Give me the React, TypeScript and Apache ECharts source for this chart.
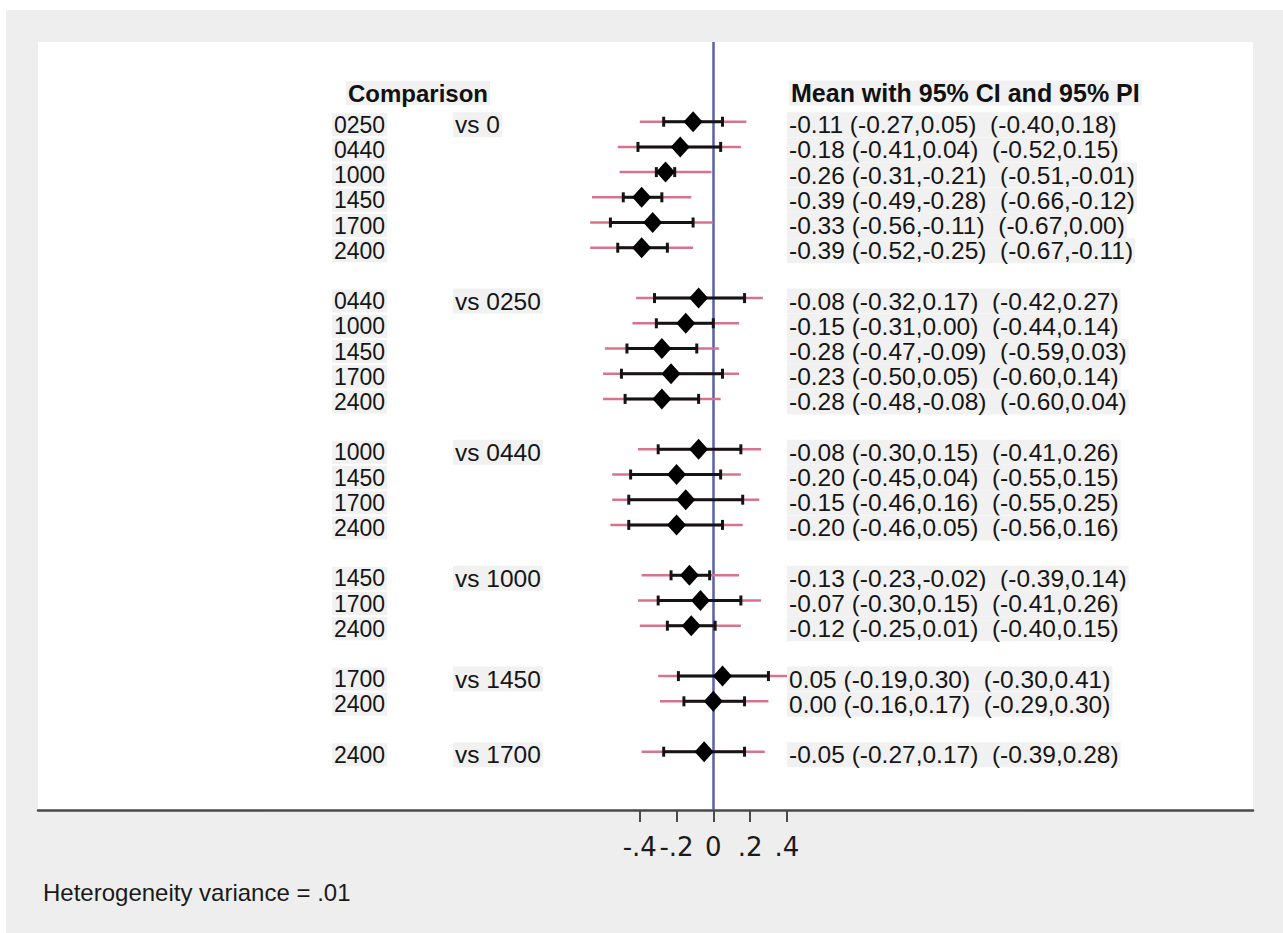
import React, { useEffect, useRef } from "react";
import * as echarts from "echarts";

// ---------- data ----------
const treatments = [
  "0250", "0440", "1000", "1450", "1700", "2400",
  "0440", "1000", "1450", "1700", "2400",
  "1000", "1450", "1700", "2400",
  "1450", "1700", "2400",
  "1700", "2400",
  "2400",
];
const comparators = [
  "0", "0", "0", "0", "0", "0",
  "0250", "0250", "0250", "0250", "0250",
  "0440", "0440", "0440", "0440",
  "1000", "1000", "1000",
  "1450", "1450",
  "1700",
];
const means = [
  -0.11, -0.18, -0.26, -0.39, -0.33, -0.39,
  -0.08, -0.15, -0.28, -0.23, -0.28,
  -0.08, -0.2, -0.15, -0.2,
  -0.13, -0.07, -0.12,
  0.05, 0.0,
  -0.05,
];
const ciLo = [
  -0.27, -0.41, -0.31, -0.49, -0.56, -0.52,
  -0.32, -0.31, -0.47, -0.5, -0.48,
  -0.3, -0.45, -0.46, -0.46,
  -0.23, -0.3, -0.25,
  -0.19, -0.16,
  -0.27,
];
const ciHi = [
  0.05, 0.04, -0.21, -0.28, -0.11, -0.25,
  0.17, 0.0, -0.09, 0.05, -0.08,
  0.15, 0.04, 0.16, 0.05,
  -0.02, 0.15, 0.01,
  0.3, 0.17,
  0.17,
];
const piLo = [
  -0.4, -0.52, -0.51, -0.66, -0.67, -0.67,
  -0.42, -0.44, -0.59, -0.6, -0.6,
  -0.41, -0.55, -0.55, -0.56,
  -0.39, -0.41, -0.4,
  -0.3, -0.29,
  -0.39,
];
const piHi = [
  0.18, 0.15, -0.01, -0.12, 0.0, -0.11,
  0.27, 0.14, 0.03, 0.14, 0.04,
  0.26, 0.15, 0.25, 0.16,
  0.14, 0.26, 0.15,
  0.41, 0.3,
  0.28,
];
const tickValues = [-0.4, -0.2, 0, 0.2, 0.4];
const tickLabels = ["-.4", "-.2", "0", ".2", ".4"];
const headerLeft = "Comparison";
const headerRight = "Mean with 95% CI and 95% PI";
const footnote = "Heterogeneity variance = .01";

// ---------- layout helpers ----------
// row index for each comparison; one blank row between comparator groups
const rows: number[] = [];
{
  let r = 1;
  comparators.forEach((c, i) => {
    if (i > 0 && c !== comparators[i - 1]) r += 1;
    rows.push(r);
    r += 1;
  });
}
const fmt = (v: number) => v.toFixed(2);

const FONT = "'Liberation Sans', Arial, Helvetica, sans-serif";
const TEXT_COLOR = "#151515";
const TEXT_BG = "#f1f1f1";
const TEXT_DY = 3;
const COL_TREAT = 326;
const COL_VS = 447;
const COL_STATS = 781;

function textEl(x: number, y: number, text: string, size: number) {
  return {
    type: "text",
    x,
    y,
    style: {
      text,
      fontFamily: FONT,
      fontSize: size,
      fill: TEXT_COLOR,
      verticalAlign: "middle",
      align: "left",
      backgroundColor: TEXT_BG,
      padding: [0, 2],
    },
  };
}

export default function App() {
  const ref = useRef<HTMLDivElement>(null);

  useEffect(() => {
    if (!ref.current) return;
    const chart = echarts.init(ref.current, undefined, { renderer: "svg" });

    const option: any = {
      animation: false,
      backgroundColor: "#eeeeee",
      grid: {
        left: 32,
        right: 30,
        top: 32,
        bottom: 123,
        show: true,
        backgroundColor: "#ffffff",
        borderWidth: 0,
      },
      xAxis: {
        type: "value",
        min: -3.675,
        max: 2.937,
        splitLine: { show: false },
        axisLine: { show: true, onZero: false, lineStyle: { color: "#4a4a4a", width: 2.5 } },
        axisTick: {
          show: true,
          customValues: tickValues,
          length: 12,
          lineStyle: { color: "#4a4a4a", width: 2 },
        },
        axisLabel: {
          customValues: tickValues,
          formatter: (v: number) => {
            const k = tickValues.findIndex((t) => Math.abs(t - v) < 1e-9);
            return k >= 0 ? tickLabels[k] : "";
          },
          fontFamily: "'DejaVu Sans', sans-serif",
          fontSize: 26,
          color: "#1a1a1a",
          margin: 24,
        },
      },
      yAxis: {
        type: "value",
        inverse: true,
        min: -2.163,
        max: 28.313,
        show: false,
      },
      graphic: [
        {
          type: "text",
          x: 340,
          y: 83,
          style: {
            text: headerLeft,
            fontFamily: FONT,
            fontSize: 24,
            fontWeight: "bold",
            fill: "#111",
            verticalAlign: "middle",
            backgroundColor: TEXT_BG,
            padding: [0, 2],
          },
        },
        {
          type: "text",
          x: 783,
          y: 83,
          style: {
            text: headerRight,
            fontFamily: FONT,
            fontSize: 25,
            fontWeight: "bold",
            fill: "#111",
            verticalAlign: "middle",
            backgroundColor: TEXT_BG,
            padding: [0, 2],
          },
        },
        {
          type: "text",
          x: 37,
          y: 882,
          style: {
            text: footnote,
            fontFamily: FONT,
            fontSize: 24,
            fill: "#1a1a1a",
            verticalAlign: "middle",
          },
        },
      ],
      series: [
        {
          type: "custom",
          name: "intervals",
          z: 2,
          data: rows.map((row, i) => [row, ciLo[i], ciHi[i], piLo[i], piHi[i]]),
          encode: { x: [1, 2, 3, 4], y: 0 },
          renderItem: (_p: any, api: any) => {
            const row = api.value(0);
            const y = api.coord([0, row])[1];
            const px = (v: number) => api.coord([v, row])[0];
            const cl = px(api.value(1));
            const ch = px(api.value(2));
            const pl = px(api.value(3));
            const ph = px(api.value(4));
            const black = "#141414";
            return {
              type: "group",
              children: [
                { type: "line", shape: { x1: pl, y1: y, x2: ph, y2: y }, style: { stroke: "#d7738d", lineWidth: 2.5 } },
                { type: "line", shape: { x1: cl, y1: y, x2: ch, y2: y }, style: { stroke: black, lineWidth: 3 } },
                { type: "line", shape: { x1: cl, y1: y - 5, x2: cl, y2: y + 5 }, style: { stroke: black, lineWidth: 3 } },
                { type: "line", shape: { x1: ch, y1: y - 5, x2: ch, y2: y + 5 }, style: { stroke: black, lineWidth: 3 } },
              ],
            };
          },
        },
        {
          type: "scatter",
          name: "mean",
          z: 3,
          symbol: "diamond",
          symbolSize: [19, 21],
          itemStyle: { color: "#000", opacity: 1 },
          data: rows.map((row, i) => [means[i], row]),
          markLine: {
            silent: true,
            z: 1,
            symbol: ["none", "none"],
            label: { show: false },
            lineStyle: { color: "#5b5eab", width: 2.5, type: "solid" },
            data: [{ xAxis: 0 }],
          },
        },
        {
          type: "custom",
          name: "labels",
          z: 4,
          data: rows.map((row, i) => [0, row, i]),
          encode: { x: 0, y: 1 },
          renderItem: (_p: any, api: any) => {
            const row = api.value(1);
            const i = api.value(2);
            const y = api.coord([0, row])[1] + TEXT_DY;
            const children: any[] = [textEl(COL_TREAT, y, treatments[i], 23)];
            if (i === 0 || comparators[i] !== comparators[i - 1]) {
              children.push(textEl(COL_VS, y, "vs " + comparators[i], 24.5));
            }
            const stats = `${fmt(means[i])} (${fmt(ciLo[i])},${fmt(ciHi[i])})  (${fmt(piLo[i])},${fmt(piHi[i])})`;
            children.push(textEl(COL_STATS, y, stats, 24.5));
            return { type: "group", children };
          },
        },
      ],
    };

    chart.setOption(option);
    return () => chart.dispose();
  }, []);

  return (
    <div
      ref={ref}
      style={{ position: "fixed", left: 6, top: 10, width: 1277, height: 923 }}
    />
  );
}
